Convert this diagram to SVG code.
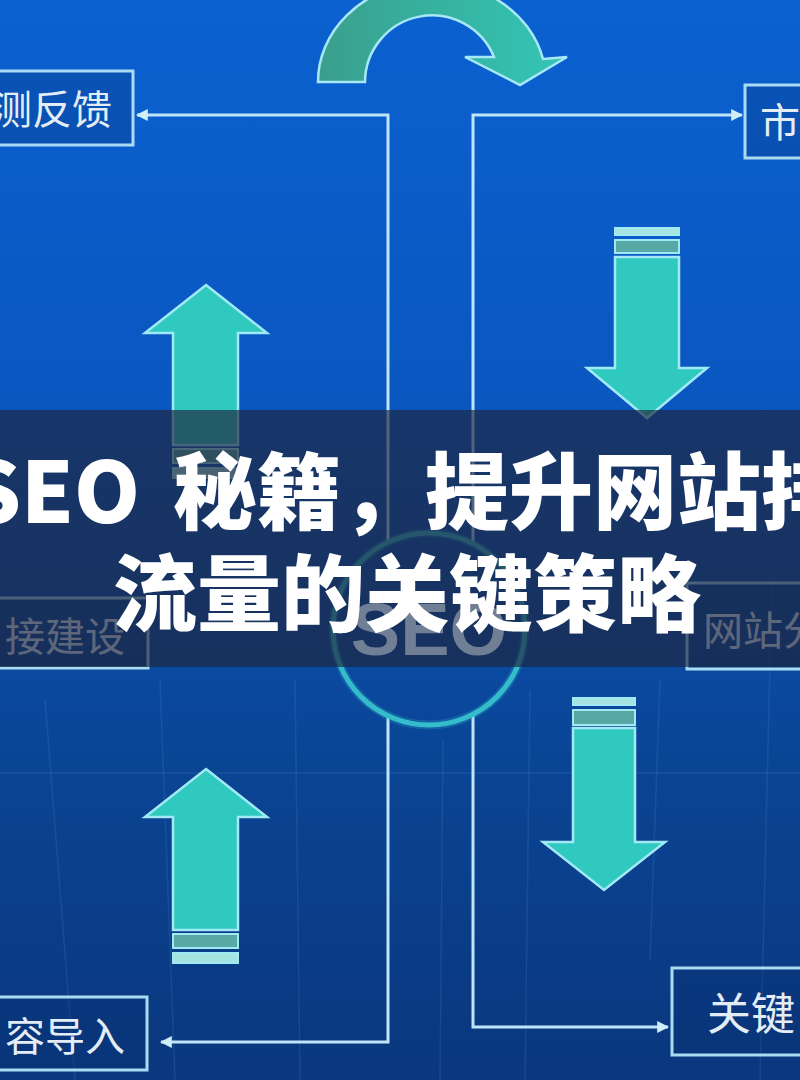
<svg xmlns="http://www.w3.org/2000/svg" width="800" height="1080" viewBox="0 0 800 1080">
  <defs>
    <linearGradient id="bg" x1="0" y1="0" x2="0" y2="1">
      <stop offset="0" stop-color="#0b61d0"/>
      <stop offset="0.4" stop-color="#0a56bf"/>
      <stop offset="0.7" stop-color="#0a4595"/>
      <stop offset="1" stop-color="#0a377d"/>
    </linearGradient>
    <linearGradient id="curve" x1="0" y1="0" x2="1" y2="0">
      <stop offset="0" stop-color="#3a9f8c"/>
      <stop offset="1" stop-color="#33c6b6"/>
    </linearGradient>
    <marker id="ah" viewBox="0 0 10 10" refX="9" refY="5" markerWidth="4" markerHeight="4" orient="auto-start-reverse" markerUnits="strokeWidth">
      <path d="M0,0 L10,5 L0,10 Z" fill="#cfeefa"/>
    </marker>
    <style>
      .box { fill: #062a6a; fill-opacity: 0.25; stroke: #a9dcf3; stroke-width: 3; }
      .lbl { font-family: 'Noto Sans CJK SC', 'Noto Sans', sans-serif; font-size: 40px; fill: #e4edf5; }
      .conn { fill: none; stroke: #bfe6f8; stroke-width: 3; }
      .arrow { fill: #2fc9bf; stroke: #a2e9f6; stroke-width: 2.5; stroke-linejoin: miter; }
      .stripeA { fill: #a6e4e2; stroke: #a2e9f6; stroke-width: 2; }
      .stripeB { fill: #58a9a6; stroke: #a2e9f6; stroke-width: 2; }
      .grid { stroke: #7fb0e8; stroke-width: 1.5; opacity: 0.12; }
      .title { font-family: 'Noto Sans CJK SC', 'Noto Sans', sans-serif; font-weight: 900; font-size: 84px; fill: #ffffff; }
    </style>
  </defs>

  <!-- background -->
  <rect x="0" y="0" width="800" height="1080" fill="url(#bg)"/>

  <!-- faint grid lines -->
  <g id="grid">
    <line class="grid" x1="0" y1="773" x2="800" y2="773"/>
    <line class="grid" x1="45" y1="700" x2="75" y2="1080"/>
    <line class="grid" x1="160" y1="680" x2="175" y2="1080"/>
    <line class="grid" x1="295" y1="680" x2="300" y2="1080"/>
    <line class="grid" x1="443" y1="740" x2="440" y2="1080"/>
    <line class="grid" x1="530" y1="690" x2="525" y2="1080"/>
    <line class="grid" x1="660" y1="680" x2="650" y2="960"/>
    <line class="grid" x1="772" y1="580" x2="760" y2="1080"/>
  </g>

  <!-- connectors -->
  <g id="connectors">
    <polyline class="conn" points="388,542 388,115 137,115" marker-end="url(#ah)"/>
    <polyline class="conn" points="388,716 388,1042 161,1042" marker-end="url(#ah)"/>
    <polyline class="conn" points="473,544 473,115 742,115" marker-end="url(#ah)"/>
    <polyline class="conn" points="473,714 473,1027 668,1027" marker-end="url(#ah)"/>
  </g>

  <!-- top curved arrow -->
  <g id="curved-arrow">
    <path d="M318,82 A114,100 0 0 1 543,59 L567,57 L520,85 L465,57 L494,57 A67,67 0 0 0 365,82 Z" fill="url(#curve)" stroke="#a8e8f6" stroke-width="2.5" stroke-linejoin="miter"/>
  </g>

  <!-- block arrows -->
  <g id="arrow-up-top">
    <path class="arrow" d="M206,285 L267,333 L238,333 L238,445 L173,445 L173,333 L145,333 Z"/>
    <rect class="stripeB" x="173" y="449" width="65" height="14"/>
    <rect class="stripeA" x="173" y="468" width="65" height="10"/>
  </g>
  <g id="arrow-up-bottom">
    <path class="arrow" d="M206,769 L267,817 L238,817 L238,930 L173,930 L173,817 L145,817 Z"/>
    <rect class="stripeB" x="173" y="934" width="65" height="14"/>
    <rect class="stripeA" x="173" y="953" width="65" height="10"/>
  </g>
  <g id="arrow-down-top">
    <rect class="stripeA" x="615" y="228" width="64" height="7"/>
    <rect class="stripeB" x="615" y="240" width="64" height="13"/>
    <path class="arrow" d="M615,257 L679,257 L679,368 L707,368 L647,418 L587,368 L615,368 Z"/>
  </g>
  <g id="arrow-down-bottom">
    <rect class="stripeA" x="573" y="698" width="62" height="7"/>
    <rect class="stripeB" x="573" y="710" width="62" height="15"/>
    <path class="arrow" d="M573,728 L635,728 L635,842 L665,842 L604,890 L543,842 L573,842 Z"/>
  </g>

  <!-- SEO circle -->
  <g id="seo-circle">
    <circle cx="429" cy="629" r="96" fill="none" stroke="#2fb7c9" stroke-width="9" opacity="0.25"/>
    <circle cx="429" cy="629" r="96" fill="none" stroke="#35bccb" stroke-width="5"/>
  </g>

  <!-- nodes -->
  <g id="node-feedback">
    <rect class="box" x="-5" y="71" width="138" height="74"/>
    <text class="lbl" x="-8" y="124">测反馈</text>
  </g>
  <g id="node-market">
    <rect class="box" x="745" y="85" width="60" height="73"/>
    <text class="lbl" x="760" y="137">市</text>
  </g>
  <g id="node-links">
    <rect class="box" x="-5" y="598" width="153" height="70"/>
    <text class="lbl" x="5" y="651">接建设</text>
  </g>
  <g id="node-site">
    <rect class="box" x="687" y="583" width="118" height="86"/>
    <text class="lbl" x="703" y="645">网站分</text>
  </g>
  <g id="node-content">
    <rect class="box" x="-5" y="997" width="152" height="73"/>
    <text class="lbl" x="5" y="1051">容导入</text>
  </g>
  <g id="node-keywords">
    <rect class="box" x="672" y="968" width="133" height="87"/>
    <text class="lbl" x="707" y="1030" style="font-size:44px">关键</text>
  </g>

  <!-- title banner -->
  <rect x="0" y="410" width="800" height="257" fill="#1e2640" fill-opacity="0.68"/>
  <text x="429" y="655" text-anchor="middle" font-family="'Liberation Sans', Arial, sans-serif" font-weight="bold" font-size="74" fill="#717f96">SEO</text>
  <text class="title" y="523"><tspan x="140" text-anchor="end">SEO</tspan><tspan x="173">秘籍，提升网站排</tspan></text>
  <text class="title" x="113" y="625">流量的关键策略</text>
</svg>
